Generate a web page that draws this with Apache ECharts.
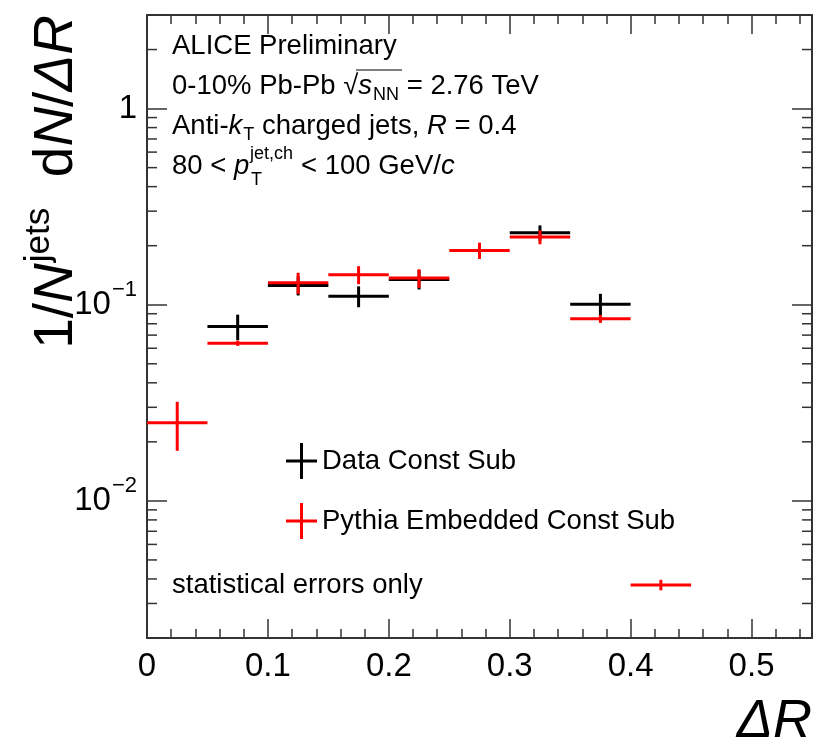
<!DOCTYPE html>
<html>
<head>
<meta charset="utf-8">
<title>Jet shape 0-10% Pb-Pb</title>
<script src="https://cdn.jsdelivr.net/npm/echarts@6/dist/echarts.min.js"></script>
<style>
html, body { margin: 0; padding: 0; background: #fff; }
#main { width: 815px; height: 744px; }
</style>
</head>
<body>
<div id="main"></div>
<script>
// bins in ΔR
var binLow  = [0, 0.05, 0.1, 0.15, 0.2, 0.25, 0.3, 0.35, 0.4];
var binHigh = [0.05, 0.1, 0.15, 0.2, 0.25, 0.3, 0.35, 0.4, 0.45];

// Data Const Sub (black)
var dataVal = [null, 0.0775, 0.1255, 0.1106, 0.1346, null, 0.2328, 0.1007, null];
var dataErr = [null, 0.0115, 0.014, 0.0135, 0.015, null, 0.021, 0.013, null];

// Pythia Embedded Const Sub (red)
var pythiaVal = [0.0250, 0.0637, 0.1295, 0.1423, 0.1367, 0.1892, 0.2214, 0.0848, 0.00373];
var pythiaErr = [0.0070, 0.002, 0.016, 0.015, 0.015, 0.018, 0.018, 0.004, 0.00023];

// log axis minor ticks
var yMinorTicks = [0.003, 0.004, 0.005, 0.006, 0.007, 0.008, 0.009,
                   0.02, 0.03, 0.04, 0.05, 0.06, 0.07, 0.08, 0.09,
                   0.2, 0.3, 0.4, 0.5, 0.6, 0.7, 0.8, 0.9, 2];

var FONT = 'Liberation Sans, Arial, Helvetica, sans-serif';
var AXIS_COLOR = '#333';
var TXT = 27.5;

var chart = echarts.init(document.getElementById('main'), null, {renderer: 'canvas'});

// [centre, value, error, low, high]
function buildPoints(vals, errs) {
	var out = [];
	for (var i = 0; i < vals.length; i++) {
		if (vals[i] == null) continue;
		out.push([(binLow[i] + binHigh[i]) / 2, vals[i], errs[i], binLow[i], binHigh[i]]);
	}
	return out;
}

function errorBar(color) {
	return function (params, api) {
		var y = api.value(1), e = api.value(2);
		var l = api.coord([api.value(3), y]);
		var r = api.coord([api.value(4), y]);
		var t = api.coord([api.value(0), y + e]);
		var b = api.coord([api.value(0), y - e]);
		return {
			type: 'group',
			children: [
				{type: 'line', shape: {x1: l[0], y1: l[1], x2: r[0], y2: r[1]}, style: {stroke: color, lineWidth: 3}},
				{type: 'line', shape: {x1: t[0], y1: t[1], x2: b[0], y2: b[1]}, style: {stroke: color, lineWidth: 3}}
			]
		};
	};
}

function xAxisDef(pos, interval, tickLen, showLine, showLabel) {
	return {
		type: 'value', position: pos, min: 0, max: 0.55, interval: interval,
		axisLine: {show: showLine, onZero: false, lineStyle: {color: AXIS_COLOR, width: 2}},
		axisTick: {show: true, inside: true, length: tickLen, lineStyle: {color: AXIS_COLOR, width: 1.5}},
		axisLabel: {
			show: showLabel, showMaxLabel: false, margin: 12, color: '#000',
			fontSize: 33, fontFamily: FONT
		},
		splitLine: {show: false}
	};
}

function yLabel(v) {
	var p = Math.round(Math.log(v) / Math.LN10);
	if (Math.abs(Math.log(v) / Math.LN10 - p) > 1e-6) return '';
	if (p === 0) return '{b|1}';
	return '{b|10}{s|\u2212' + Math.abs(p) + '}';
}

function yAxisDef(pos, showLabel) {
	return {
		type: 'log', logBase: 10, position: pos, min: 0.002, max: 3,
		axisLine: {show: true, onZero: false, lineStyle: {color: AXIS_COLOR, width: 2}},
		axisTick: {show: true, inside: true, length: 20, lineStyle: {color: AXIS_COLOR, width: 1.5}},
		axisLabel: {
			show: showLabel, margin: 10, formatter: yLabel,
			rich: {
				b: {fontSize: 33, fontFamily: FONT, color: '#000'},
				s: {fontSize: 22, fontFamily: FONT, color: '#000', padding: [0, 0, 30, 1]}
			}
		},
		splitLine: {show: false},
		minorTick: {show: false}
	};
}

var option = {
	backgroundColor: '#fff',
	animation: false,
	grid: {left: 147, right: 3, top: 15, bottom: 106, outerBoundsMode: 'none'},
	xAxis: [
		xAxisDef('bottom', 0.1, 19, true, true),
		xAxisDef('bottom', 0.02, 9, false, false),
		xAxisDef('top', 0.1, 19, true, false),
		xAxisDef('top', 0.02, 9, false, false)
	],
	yAxis: [
		yAxisDef('left', true),
		yAxisDef('right', false)
	],
	legend: {
		data: ['Data Const Sub', 'Pythia Embedded Const Sub'],
		orient: 'vertical', left: 286, top: 443, padding: 0,
		itemWidth: 31, itemHeight: 36, itemGap: 24,
		icon: 'path://M0,16.5L31,16.5L31,19.5L0,19.5Z M14,0L17,0L17,36L14,36Z',
		selectedMode: false,
		textStyle: {fontSize: TXT, color: '#000', fontFamily: FONT}
	},
	graphic: [
		// y title
		{
			type: 'text', x: 57, y: 15, rotation: Math.PI / 2,
			style: {
				text: '1/{it|N}{sup|jets}  d{it|N}/{it|\u0394R}',
				align: 'right', verticalAlign: 'middle',
				fontSize: 55, fontFamily: FONT, fill: '#000',
				rich: {
					it: {fontSize: 55, fontFamily: FONT, fontStyle: 'italic', fill: '#000'},
					sup: {fontSize: 35, fontFamily: FONT, fill: '#000', padding: [0, 0, 36, 1]}
				}
			}
		},
		// x title
		{
			type: 'text', x: 812, y: 722,
			style: {text: '\u0394R', align: 'right', verticalAlign: 'middle', fontSize: 54, fontStyle: 'italic', fontFamily: FONT, fill: '#000'}
		},
		{
			type: 'text', x: 172, y: 46,
			style: {text: 'ALICE Preliminary', verticalAlign: 'middle', fontSize: TXT, fontFamily: FONT, fill: '#000'}
		},
		{
			type: 'text', x: 172, y: 86,
			style: {
				text: '0-10% Pb-Pb \u221A{it|s}{sub|NN} = 2.76 TeV', verticalAlign: 'middle',
				fontSize: TXT, fontFamily: FONT, fill: '#000',
				rich: {
					it: {fontSize: TXT, fontFamily: FONT, fontStyle: 'italic', fill: '#000'},
					sub: {fontSize: 18, fontFamily: FONT, fill: '#000', padding: [18, 0, 0, 1]}
				}
			}
		},
		{
			type: 'line', shape: {x1: 356, y1: 70, x2: 402, y2: 70}, style: {stroke: '#000', lineWidth: 1}
		},
		{
			type: 'text', x: 172, y: 126,
			style: {
				text: 'Anti-{it|k}{sub|T} charged jets, {it|R} = 0.4', verticalAlign: 'middle',
				fontSize: TXT, fontFamily: FONT, fill: '#000',
				rich: {
					it: {fontSize: TXT, fontFamily: FONT, fontStyle: 'italic', fill: '#000'},
					sub: {fontSize: 18, fontFamily: FONT, fill: '#000', padding: [18, 0, 0, 1]}
				}
			}
		},
		{
			type: 'text', x: 172, y: 166,
			style: {
				text: '80 < {it|p}', verticalAlign: 'middle', fontSize: TXT, fontFamily: FONT, fill: '#000',
				rich: {it: {fontSize: TXT, fontFamily: FONT, fontStyle: 'italic', fill: '#000'}}
			}
		},
		{
			type: 'text', x: 250, y: 154,
			style: {text: 'jet,ch', verticalAlign: 'middle', fontSize: 18, fontFamily: FONT, fill: '#000'}
		},
		{
			type: 'text', x: 251, y: 180,
			style: {text: 'T', verticalAlign: 'middle', fontSize: 18, fontFamily: FONT, fill: '#000'}
		},
		{
			type: 'text', x: 301, y: 166,
			style: {
				text: '< 100 GeV/{it|c}', verticalAlign: 'middle', fontSize: TXT, fontFamily: FONT, fill: '#000',
				rich: {it: {fontSize: TXT, fontFamily: FONT, fontStyle: 'italic', fill: '#000'}}
			}
		},
		{
			type: 'text', x: 172, y: 585,
			style: {text: 'statistical errors only', verticalAlign: 'middle', fontSize: TXT, fontFamily: FONT, fill: '#000'}
		}
	],
	series: [
		{
			// minor ticks of the log axis, both sides of the frame
			type: 'custom', name: 'yminor', silent: true,
			data: yMinorTicks.map(function (v) { return [0, v]; }),
			renderItem: function (params, api) {
				var cs = params.coordSys;
				var y = api.coord([0, api.value(1)])[1];
				var st = {stroke: AXIS_COLOR, lineWidth: 1.5};
				return {
					type: 'group',
					children: [
						{type: 'line', shape: {x1: cs.x, y1: y, x2: cs.x + 10, y2: y}, style: st},
						{type: 'line', shape: {x1: cs.x + cs.width, y1: y, x2: cs.x + cs.width - 10, y2: y}, style: st}
					]
				};
			}
		},
		{
			type: 'custom', name: 'Data Const Sub',
			itemStyle: {color: '#000'},
			data: buildPoints(dataVal, dataErr),
			renderItem: errorBar('#000')
		},
		{
			type: 'custom', name: 'Pythia Embedded Const Sub',
			itemStyle: {color: '#ff0000'},
			data: buildPoints(pythiaVal, pythiaErr),
			renderItem: errorBar('#ff0000')
		}
	]
};

chart.setOption(option);
</script>
</body>
</html>
